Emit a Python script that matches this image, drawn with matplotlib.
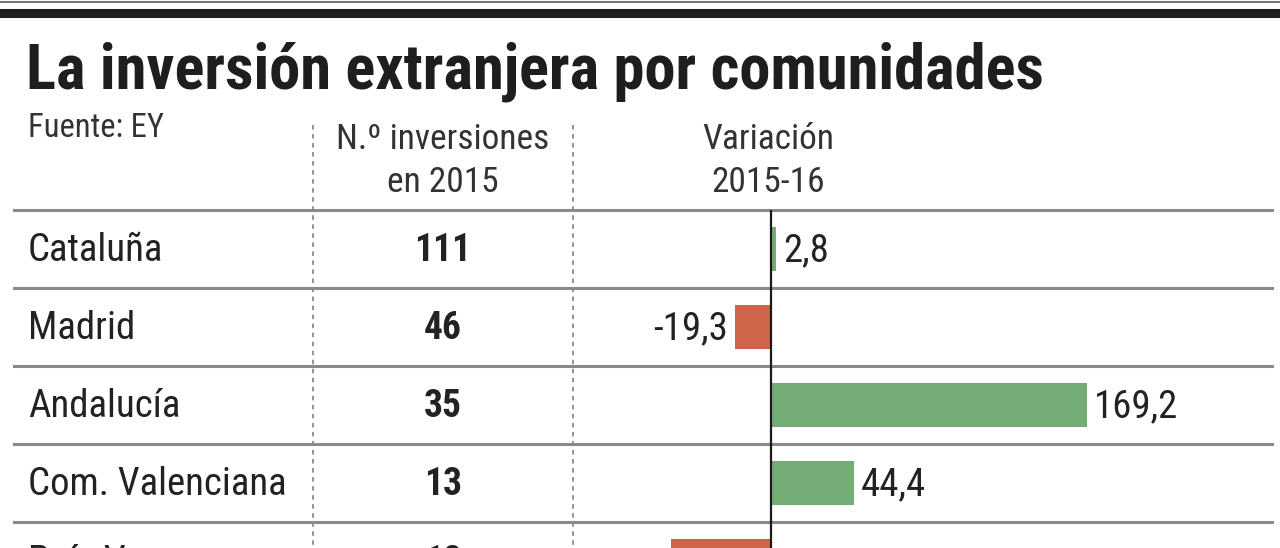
import matplotlib
matplotlib.use("Agg")
import matplotlib.pyplot as plt
from matplotlib.lines import Line2D
import matplotlib.transforms as mtransforms

# datos
regiones = ["Cataluña", "Madrid", "Andalucía", "Com. Valenciana", "País Vasco"]
inversiones = [111, 46, 35, 13, 12]
variacion = [2.8, -19.3, 169.2, 44.4, -53.4]

titulo = "La inversión extranjera por comunidades"
fuente = "Fuente: EY"
cab_inversiones = "N.º inversiones\nen 2015"
cab_variacion = "Variación\n2015-16"

verde = "#73ad75"
rojo = "#d0644b"
texto = "#222222"
gris = "#8a8a8a"

plt.rcParams["font.family"] = ["Roboto Condensed", "Liberation Sans Narrow", "Roboto", "DejaVu Sans"]

W, H = 1280, 548
fig = plt.figure(figsize=(W / 100, H / 100), dpi=100)
ax = fig.add_axes([0, 0, 1, 1])

# escala: cero en x=771 px, 1.87 px por punto; filas cada 78 px
px_unidad = 1.87
x0 = 771
ax.set_xlim(-x0 / px_unidad, (W - x0) / px_unidad)
fila0, paso = 249, 78
ax.set_ylim((H - fila0) / paso, -fila0 / paso)
ax.axis("off")

y = list(range(len(regiones)))
colores = [verde if v >= 0 else rojo for v in variacion]
ax.barh(y, variacion, height=0.56, color=colores, zorder=2)

for i, v in enumerate(variacion):
    etiqueta = f"{v:.1f}".replace(".", ",")
    if v >= 0:
        ax.annotate(etiqueta, (v, i + 0.02), xytext=(5, 0), textcoords="offset points",
                    ha="left", va="center", fontsize=28, color=texto)
    else:
        ax.annotate(etiqueta, (v, i + 0.02), xytext=(-5, 0), textcoords="offset points",
                    ha="right", va="center", fontsize=28, color=texto)

trans = mtransforms.blended_transform_factory(ax.transAxes, ax.transData)
for i, (r, n) in enumerate(zip(regiones, inversiones)):
    ax.text(28 / W, i + 0.02, r, transform=trans, ha="left", va="center",
            fontsize=28, color=texto)
    ax.text(443 / W, i + 0.02, str(n), transform=trans, ha="center", va="center",
            fontsize=27, fontweight="bold", color=texto)

# separadores de filas
for i in range(len(regiones)):
    ax.axhline(i - 0.5, xmin=14 / W, xmax=1272 / W, color=gris, lw=2.2, zorder=1)

# eje cero
ax.vlines(0, -0.5, ax.get_ylim()[0], color="#1a1a1a", lw=1.6, zorder=3)

# lineas punteadas de columnas
for xp in (313, 573):
    ax.plot([xp / W, xp / W], [(125 - fila0) / paso, ax.get_ylim()[0]],
            transform=trans, color=gris, lw=1.3, ls=(0, (2.5, 2.5)), zorder=1)

# filetes superiores
fig.add_artist(Line2D([0, 1], [1 - 2 / H, 1 - 2 / H], color="#777777", lw=1.5))
fig.add_artist(Line2D([0, 1], [1 - 12.5 / H, 1 - 12.5 / H], color="#1e1e1e", lw=6.5))

fig.text(26 / W, 1 - 89 / H, titulo, ha="left", va="baseline",
         fontsize=45, fontweight="black", color="#1e1e1e")
fig.text(28 / W, 1 - 128 / H, fuente, ha="left", va="center",
         fontsize=23.5, color="#333333")
fig.text(443 / W, 1 - 161 / H, cab_inversiones, ha="center", va="center",
         fontsize=25.5, color="#333333", linespacing=1.4)
fig.text(768 / W, 1 - 161 / H, cab_variacion, ha="center", va="center",
         fontsize=25.5, color="#333333", linespacing=1.4)

fig.savefig("out.png", dpi=100, facecolor="white")
